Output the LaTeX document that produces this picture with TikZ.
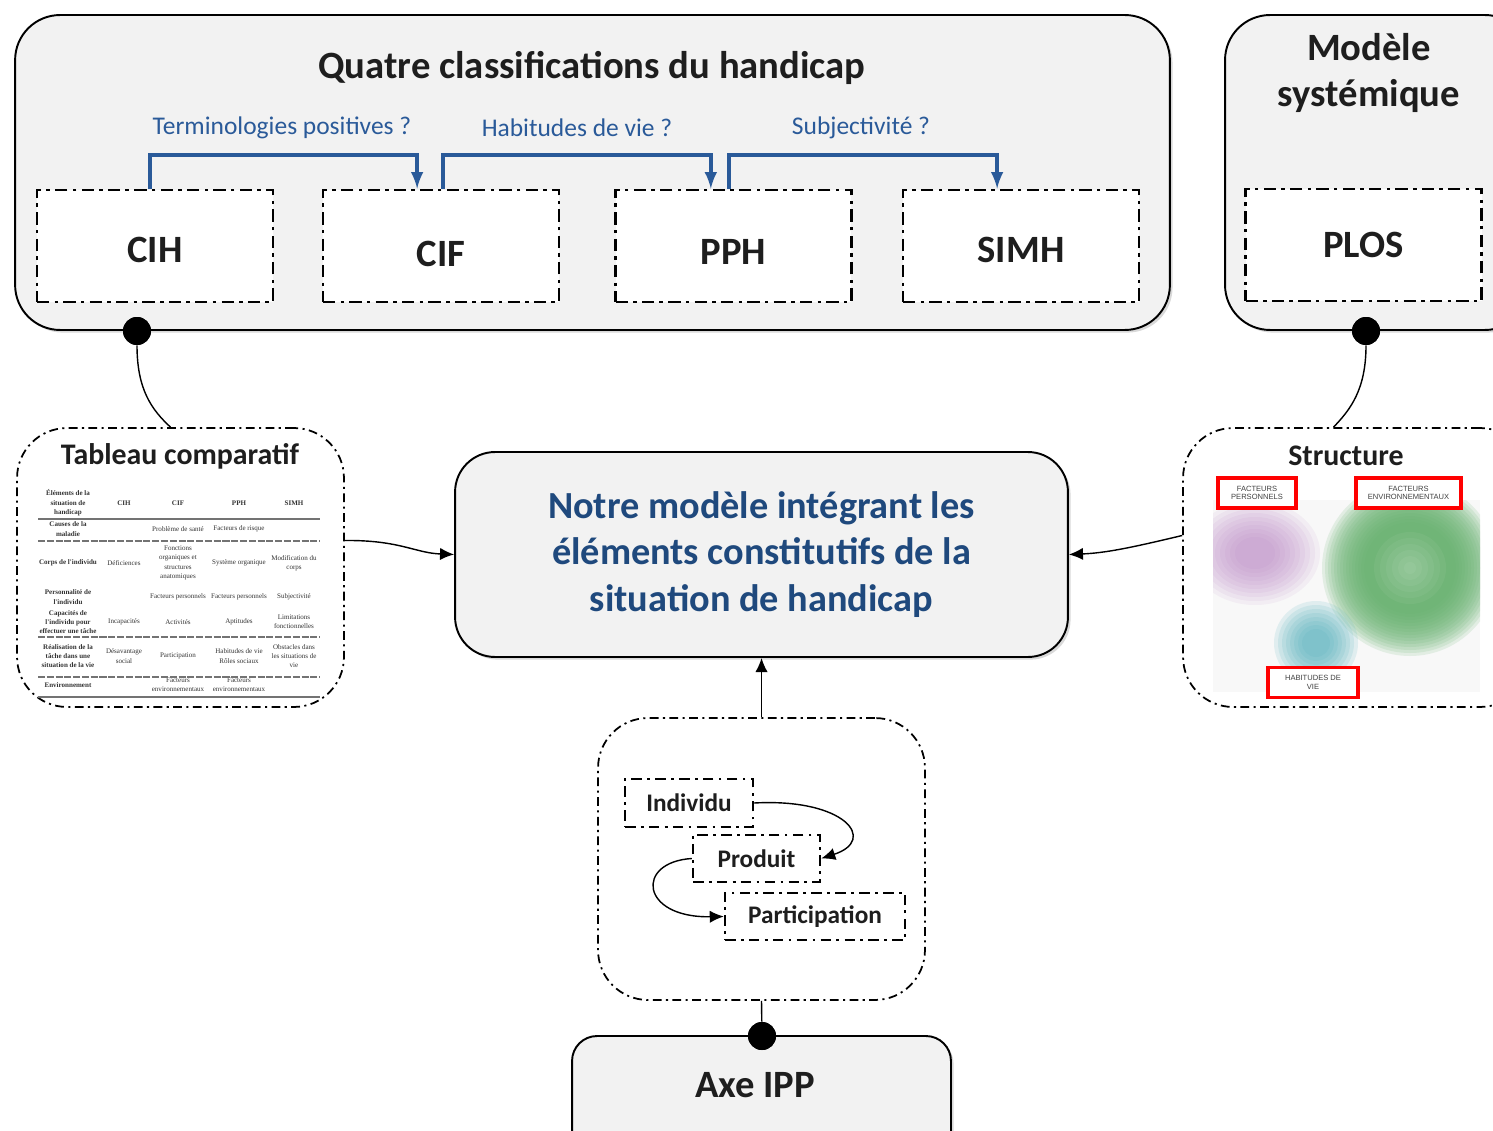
\documentclass[tikz,border=0pt]{standalone}
\usepackage{fontspec}
\setmainfont{Carlito}
\newfontfamily\tabfont{Liberation Serif}
\newfontfamily\smallsans{Liberation Sans}
\usepackage{tikz}
\usetikzlibrary{arrows, arrows.meta, shadows, calc}
\definecolor{boxgray}{HTML}{F2F2F2}
\definecolor{darkblue}{HTML}{1F497D}
\definecolor{qblue}{HTML}{2A5A99}
\definecolor{txt}{HTML}{1E1E1E}
\definecolor{imgbg}{HTML}{F8F8F8}
\definecolor{gring}{HTML}{66B26E}
\definecolor{purp}{HTML}{B67FC2}
\definecolor{blobteal}{HTML}{4FAFBC}
\tikzstyle{arrow} = [line width=0.8pt,-{Latex[length=8pt,width=7pt]}]
\tikzstyle{line} = [line width=0.8pt]
\tikzstyle{bluearrow} = [line width=2.2pt,draw=qblue,->,>=latex]
\tikzstyle{grayBox} = [rectangle, rounded corners=0.9cm, draw=black, line width=1.1pt, fill=boxgray, drop shadow={shadow xshift=1.5pt, shadow yshift=-1.5pt, opacity=0.3}]
\tikzstyle{dashBox} = [rectangle, draw=black, fill=white, line width=1.6pt, dash pattern=on 7pt off 3pt on 2pt off 3pt, minimum width=4.72cm, minimum height=2.24cm, text height=19pt, text=txt, font=\fontsize{22}{26}\selectfont\bfseries]
\tikzstyle{dashRound} = [rectangle, rounded corners=1cm, draw=black, fill=white, line width=1pt, dash pattern=on 5pt off 2.5pt on 1.2pt off 2.5pt]
\tikzstyle{smallBox} = [rectangle, draw=black, fill=white, line width=1.4pt, dash pattern=on 6pt off 3pt on 1.6pt off 3pt, minimum height=0.95cm, text=txt, font=\fontsize{14.4}{17}\selectfont\bfseries]
\tikzstyle{title} = [text=txt, align=center, font=\fontsize{22}{26.7}\selectfont\bfseries]
\tikzstyle{question} = [text=qblue, font=\fontsize{14.5}{17}\selectfont]
\tikzstyle{dot} = [circle, fill=black, minimum size=0.56cm, inner sep=0pt]
\tikzstyle{redBox} = [rectangle, draw=red, line width=2.2pt, fill=white, minimum height=0.6cm, inner sep=1pt, align=center, text=black!75, font=\smallsans\fontsize{4.3}{5}\selectfont]
\tikzstyle{cell} = [align=center, inner sep=0pt, text=black!80, font=\tabfont\fontsize{4}{5.3}\selectfont]
\tikzstyle{rowlab} = [cell, font=\tabfont\bfseries\fontsize{4}{5.3}\selectfont]

\begin{document}
\begin{tikzpicture}[x=0.02cm, y=-0.02cm]
	\useasboundingbox (0,0) rectangle (1493,1131);
	\clip (0,0) rectangle (1493,1131);
	% les deux cadres du haut
	\node (quatre) [grayBox, minimum width=23.1cm, minimum height=6.3cm] at (592.5,172.5) {};
	\node (modele) [grayBox, minimum width=6.1cm, minimum height=6.3cm] at (1377.5,172.5) {};
	\node (quatreTitle) [title] at (592,68) {Quatre classifications du handicap};
	\node (modeleTitle) [title] at (1369,73) {Modèle\\systémique};
	\node (cih) [dashBox] at (155,246) {CIH};
	\node (cif) [dashBox, text height=23pt] at (441,246) {CIF};
	\node (pph) [dashBox, text height=21pt] at (733.5,246) {PPH};
	\node (simh) [dashBox] at (1021,246) {SIMH};
	\node (plos) [dashBox, text height=14pt] at (1363.5,245) {PLOS};
	\node (termino) [question] at (282,128) {Terminologies positives ?};
	\node (habitudes) [question] at (577,128) {Habitudes de vie ?};
	\node (subject) [question] at (861,128) {Subjectivité ?};
	\draw [bluearrow] ($(cih.north west)!0.48!(cih.north east)$) -- ++(0,-34) -| ($(cif.north west)!0.40!(cif.north east)$);
	\draw [bluearrow] ($(cif.north west)!0.51!(cif.north east)$) -- ++(0,-34) -| ($(pph.north west)!0.405!(pph.north east)$);
	\draw [bluearrow] ($(pph.north west)!0.48!(pph.north east)$) -- ++(0,-34) -| ($(simh.north west)!0.40!(simh.north east)$);

	% tableau comparatif
	\node (tableau) [dashRound, minimum width=6.54cm, minimum height=5.58cm] at (180.5,567.5) {};
	\node (tableauTitle) [text=txt, font=\fontsize{17}{20}\selectfont\bfseries] at (180,456) {Tableau comparatif};
	\foreach \ry/\ra/\rb/\rc/\rd/\re [count=\i] in {
		503/{Éléments de la\\situation de\\handicap}/\textbf{CIH}/\textbf{CIF}/\textbf{PPH}/\textbf{SIMH},
		529/{Causes de la\\maladie}/{}/{Problème de santé}/{Facteurs de risque}/{},
		563/{Corps de l'individu}/{Déficiences}/{Fonctions\\organiques et\\structures\\anatomiques}/{Système organique}/{Modification du\\corps},
		597/{Personnalité de\\l'individu}/{}/{Facteurs personnels}/{Facteurs personnels}/{Subjectivité},
		622/{Capacités de\\l'individu pour\\effectuer une tâche}/{Incapacités}/{Activités}/{Aptitudes}/{Limitations\\fonctionnelles},
		656/{Réalisation de la\\tâche dans une\\situation de la vie}/{Désavantage\\social}/{Participation}/{Habitudes de vie\\Rôles sociaux}/{Obstacles dans\\les situations de\\vie},
		685/{Environnement}/{}/{Facteurs\\environnementaux}/{Facteurs\\environnementaux}/{}}
	{
		\node (lab\i) [rowlab] at (68,\ry) {\ra};
		\node (cihcol\i) [cell] at (124,\ry) {\rb};
		\node (cifcol\i) [cell] at (178,\ry) {\rc};
		\node (pphcol\i) [cell] at (239,\ry) {\rd};
		\node (simhcol\i) [cell] at (294,\ry) {\re};
	}
	\draw [black!55, line width=0.8pt] (38,519) -- (320,519);
	\draw [black!55, line width=0.8pt, dash pattern=on 4pt off 1pt] (38,541) -- (320,541);
	\draw [black!55, line width=0.8pt, dash pattern=on 4pt off 1pt] (38,637) -- (320,637);
	\draw [black!55, line width=0.8pt, dash pattern=on 4pt off 1pt] (38,677) -- (320,677);
	\draw [black!55, line width=0.8pt] (38,697) -- (320,697);

	% structure
	\node (structure) [dashRound, minimum width=6.94cm, minimum height=5.58cm] at (1356.5,567.5) {};
	\node (structureTitle) [text=txt, font=\fontsize{17}{20}\selectfont\bfseries] at (1346,456) {Structure};
	\begin{scope}
		\clip (1213,500) rectangle (1480,692);
		\fill [imgbg] (1213,500) rectangle (1480,692);
		\foreach \r in {16,20,...,52} \fill [purp, opacity=0.09] (1255,553) ellipse ({1.25*\r} and \r);
		\foreach \r in {46,49,...,88} \fill [gring, opacity=0.15] (1410,568) circle (\r);
		\foreach \r in {6,12,...,36} \fill [white, opacity=0.05] (1410,568) circle (\r);
		\foreach \r in {14,18,...,44} \fill [blobteal, opacity=0.14] (1316,643) circle (\r);
	\end{scope}
	\node (persRed) [redBox, minimum width=1.56cm] at (1257,493) {FACTEURS\\PERSONNELS};
	\node (envRed) [redBox, minimum width=2.1cm] at (1408.5,493) {FACTEURS\\ENVIRONNEMENTAUX};
	\node (vieRed) [redBox, minimum width=1.8cm] at (1313,682.5) {HABITUDES DE\\VIE};

	% modele integre
	\node (integre) [grayBox, rounded corners=0.8cm, minimum width=12.26cm, minimum height=4.1cm, text=darkblue, align=center, font=\fontsize{21.8}{26.3}\selectfont\bfseries] at (761.5,554.5) {Notre modèle intégrant les\\éléments constitutifs de la\\situation de handicap};

	% axe IPP
	\node (ippzone) [dashRound, minimum width=6.54cm, minimum height=5.64cm] at (761.5,859) {};
	\node (individu) [smallBox, minimum width=2.56cm] at (689,803) {Individu};
	\node (produit) [smallBox, minimum width=2.54cm] at (756.5,858.5) {Produit};
	\node (particip) [smallBox, minimum width=3.6cm] at (815,916.5) {Participation};
	\node (axe) [grayBox, rounded corners=0.5cm, minimum width=7.58cm, minimum height=2.48cm] at (761.5,1098) {};
	\node (axeTitle) [text=txt, font=\fontsize{22}{26}\selectfont\bfseries] at (755,1085) {Axe IPP};

	% liens
	\node (dotcih) [dot] at (137,331) {};
	\node (dotplos) [dot] at (1366,331) {};
	\node (dotaxe) [dot] at (762,1036) {};
	\draw [line] (dotcih) .. controls (137,390) and (152,410) .. ($(tableau.north)+(-10,0)$);
	\draw [line] (dotplos) .. controls (1366,390) and (1350,410) .. ($(structure.north)+(-23,0)$);
	\draw [line] (ippzone.south) -- (dotaxe);
	\node [dot] at (dotcih) {};
	\node [dot] at (dotplos) {};
	\node [dot] at (dotaxe) {};
	\draw [arrow] ($(tableau.east)+(0,-27)$) .. controls (400,540) and (415,553) .. (integre.west);
	\draw [arrow] ($(structure.west)+(0,-32)$) .. controls (1130,548) and (1105,553) .. (integre.east);
	\draw [arrow] (ippzone.north) -- (integre.south);
	\draw [arrow] (individu.east) .. controls (845,798) and (878,840) .. (produit.east);
	\draw [arrow] (produit.west) .. controls (635,862) and (640,918) .. (particip.west);
\end{tikzpicture}
\end{document}
